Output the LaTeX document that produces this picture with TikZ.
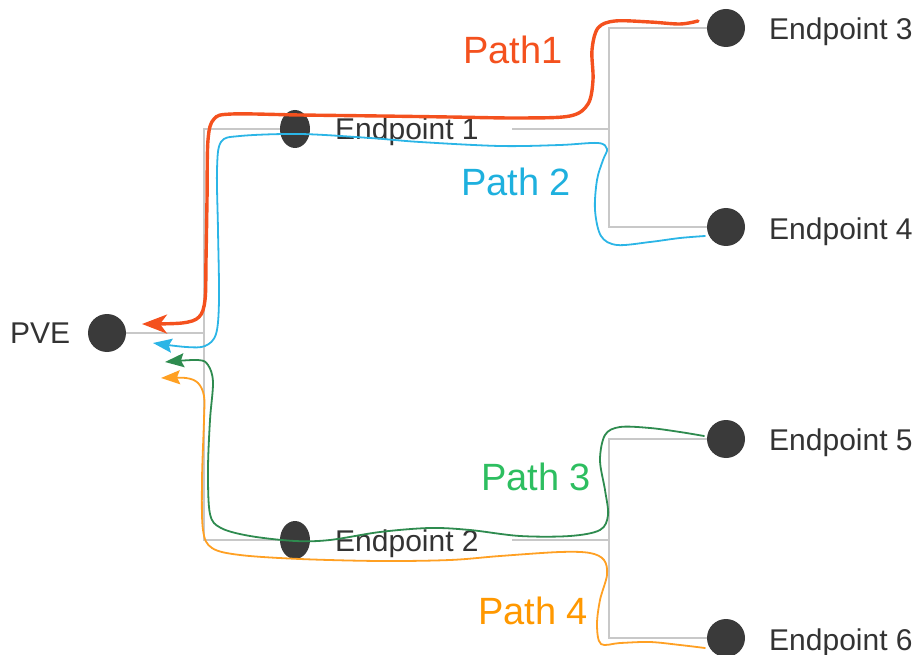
\documentclass[tikz,border=0pt]{standalone}
\usepackage{fontspec}
\setmainfont{Liberation Sans}
\usetikzlibrary{arrows.meta,shapes.geometric}
\definecolor{dotc}{HTML}{3A3A3A}
\definecolor{txtc}{HTML}{333333}
\definecolor{grayl}{HTML}{C8C8C8}
\definecolor{redp}{HTML}{F4511E}
\definecolor{bluep}{HTML}{2BB5E6}
\definecolor{bluet}{HTML}{1EB0DE}
\definecolor{greenp}{HTML}{2E8B4F}
\definecolor{greent}{HTML}{2DBE60}
\definecolor{orangep}{HTML}{FFA023}
\definecolor{oranget}{HTML}{FF9800}
\tikzset{
  dotnode/.style={circle, fill=dotc, minimum size=38pt, inner sep=0pt},
  ellnode/.style={ellipse, fill=dotc, minimum width=30pt, minimum height=38pt, inner sep=0pt},
  eplabel/.style={anchor=base west, inner sep=0pt, text=txtc, font=\fontsize{30}{34}\selectfont},
  pathlabel/.style={anchor=base, inner sep=0pt, font=\fontsize{38}{42}\selectfont},
  tree/.style={draw=grayl, line width=2pt},
  route/.style={line width=1.8pt, smooth, tension=0.55, line cap=round, -{Stealth[length=19pt,width=14pt,inset=3pt]}},
  bigroute/.style={line width=3.4pt, smooth, tension=0.55, line cap=round, -{Stealth[length=25pt,width=19pt,inset=7pt]}},
}
\begin{document}
\begin{tikzpicture}[x=1pt,y=-1pt]
\useasboundingbox (0,0) rectangle (916,655);
% tree coordinates
\coordinate (j0) at (204,333);
\coordinate (jt) at (204,129);
\coordinate (jb) at (204,540);
\coordinate (r1) at (512,129);
\coordinate (k1) at (609,129);
\coordinate (k1t) at (609,28);
\coordinate (k1b) at (609,227);
\coordinate (r2) at (512,540);
\coordinate (k2) at (609,540);
\coordinate (k2t) at (609,439);
\coordinate (k2b) at (609,638);
% gray tree (drawn first, between coordinates at node centres)
\draw[tree] (107,333) coordinate (pvec) -- (j0);
\draw[tree] (295,129) coordinate (e1c) -- (jt) -- (jb) -- (295,540) coordinate (e2c);
\draw[tree] (r1) -- (k1);
\draw[tree] (726,28) coordinate (e3c) -- (k1t) -- (k1b) -- (726,227) coordinate (e4c);
\draw[tree] (r2) -- (k2);
\draw[tree] (726,439) coordinate (e5c) -- (k2t) -- (k2b) -- (726,638) coordinate (e6c);
% nodes
\node[dotnode] (pve) at (pvec) {};
\node[ellnode] (e1) at (e1c) {};
\node[ellnode] (e2) at (e2c) {};
\node[dotnode] (e3) at (e3c) {};
\node[dotnode] (e4) at (e4c) {};
\node[dotnode] (e5) at (e5c) {};
\node[dotnode] (e6) at (e6c) {};
% labels
\node[eplabel] (tpve) at (10,343) {PVE};
\node[eplabel] (t1) at (335,140) {Endpoint 1};
\node[eplabel] (t2) at (335,551) {Endpoint 2};
\node[eplabel] (t3) at (769,40) {Endpoint 3};
\node[eplabel] (t4) at (769,240) {Endpoint 4};
\node[eplabel] (t5) at (769,450) {Endpoint 5};
\node[eplabel] (t6) at (769,650) {Endpoint 6};
% routes
\draw[bigroute, redp] plot coordinates {(698,21) (680,24) (650,22) (615,21) (598,28) (592,50) (593,80) (588,104) (570,116) (520,118) (450,117) (380,116) (300,115) (232,114) (214,119) (208,140) (207,200) (206,260) (205,300) (199,317) (182,323) (142,324)};
\draw[route, bluep] plot coordinates {(705,236) (680,238) (650,242) (617,245) (601,236) (595,210) (597,180) (603,160) (607,149) (598,143) (560,145) (500,146) (420,142) (370,138) (300,134) (240,136) (221,142) (217,170) (218,230) (219,300) (216,334) (205,346) (186,347) (153,343)};
\draw[route, greenp] plot coordinates {(704,436) (680,432) (650,428) (620,427) (605,435) (600,460) (605,490) (608,515) (600,530) (570,536) (520,536) (470,530) (430,528) (380,532) (330,540) (295,541) (250,536) (221,528) (210,514) (208,470) (210,420) (213,382) (208,365) (198,360) (165,362)};
\draw[route, orangep] plot coordinates {(705,648) (680,645) (650,642) (620,643) (601,644) (597,625) (600,600) (607,575) (604,560) (590,553) (560,552) (500,556) (450,560) (380,561) (300,559) (240,555) (212,548) (203,530) (202,480) (204,420) (204,396) (198,383) (186,378) (161,378)};
% path labels
\node[pathlabel, text=redp] (p1) at (513,64) {Path1};
\node[pathlabel, text=bluet] (p2) at (516,196) {Path 2};
\node[pathlabel, text=greent] (p3) at (536,490) {Path 3};
\node[pathlabel, text=oranget] (p4) at (533,624) {Path 4};
\end{tikzpicture}
\end{document}
